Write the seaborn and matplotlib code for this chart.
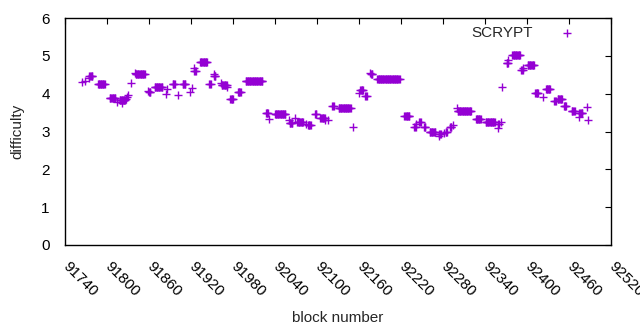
import numpy as np
import pandas as pd
import matplotlib
matplotlib.use("Agg")
import matplotlib.pyplot as plt
import matplotlib.transforms as mtransforms
import seaborn as sns

# difficulty read off the chart as runs of blocks at one level
# (start block, end block, difficulty); single blocks have start == end
seg_start = [91765, 91768, 91774, 91775, 91787, 91804, 91815, 91818, 91822, 91827,
             91829, 91830, 91834, 91840, 91841, 91858, 91860, 91868, 91885, 91886,
             91894, 91902, 91908, 91919, 91922, 91925, 91925, 91933, 91946, 91953,
             91953, 91963, 91964, 91972, 91976, 91987, 91998, 92027, 92032, 92040,
             92060, 92061, 92068, 92072, 92084, 92087, 92097, 92105, 92112, 92116,
             92122, 92131, 92152, 92160, 92162, 92169, 92176, 92177, 92186, 92225,
             92239, 92242, 92246, 92253, 92261, 92274, 92275, 92282, 92284, 92290,
             92294, 92300, 92301, 92327, 92341, 92358, 92359, 92363, 92365, 92371,
             92373, 92379, 92392, 92394, 92401, 92412, 92423, 92427, 92439, 92444,
             92453, 92464, 92474, 92475, 92486, 92487]
seg_end = [91765, 91768, 91774, 91779, 91797, 91812, 91815, 91826, 91822, 91827,
           91829, 91830, 91834, 91840, 91854, 91858, 91862, 91879, 91885, 91886,
           91897, 91902, 91912, 91919, 91922, 91925, 91927, 91943, 91948, 91953,
           91955, 91963, 91971, 91972, 91980, 91991, 92022, 92030, 92032, 92055,
           92060, 92065, 92068, 92080, 92084, 92091, 92099, 92111, 92112, 92116,
           92124, 92148, 92152, 92160, 92166, 92171, 92176, 92179, 92218, 92232,
           92241, 92242, 92248, 92255, 92269, 92274, 92277, 92282, 92286, 92292,
           92294, 92300, 92320, 92334, 92354, 92358, 92360, 92363, 92365, 92373,
           92373, 92390, 92394, 92394, 92410, 92416, 92423, 92433, 92441, 92450,
           92456, 92468, 92474, 92479, 92486, 92487]
seg_level = [4.30, 4.34, 4.42, 4.47, 4.25, 3.88, 3.78, 3.82, 3.75, 3.85,
             3.92, 3.97, 4.28, 4.55, 4.52, 4.08, 4.04, 4.18, 4.00, 4.12,
             4.25, 3.97, 4.25, 4.05, 4.15, 4.68, 4.61, 4.84, 4.26, 4.52,
             4.47, 4.28, 4.24, 4.18, 3.85, 4.04, 4.34, 3.48, 3.33, 3.46,
             3.30, 3.22, 3.36, 3.24, 3.20, 3.16, 3.45, 3.36, 3.31, 3.30,
             3.68, 3.63, 3.12, 4.02, 4.10, 3.94, 4.55, 4.52, 4.40, 3.42,
             3.13, 3.20, 3.25, 3.11, 2.98, 2.88, 2.93, 2.95, 3.00, 3.11,
             3.16, 3.62, 3.55, 3.34, 3.26, 3.10, 3.20, 3.25, 4.18, 4.80,
             4.90, 5.01, 4.62, 4.68, 4.77, 4.03, 3.90, 4.12, 3.80, 3.87,
             3.67, 3.53, 3.38, 3.50, 3.65, 3.30]

blocks, diffs = [], []
for s, e, v in zip(seg_start, seg_end, seg_level):
    for b in range(s, e + 1):
        blocks.append(b)
        diffs.append(v)
df = pd.DataFrame({"block": blocks, "difficulty": diffs})

x_ticks = list(range(91740, 92521, 60))
purple = "#9400D3"

sns.set_theme(style="white")
plt.rcParams["font.family"] = ["Liberation Sans", "DejaVu Sans"]
plt.rcParams["font.size"] = 11

fig = plt.figure(figsize=(6.4, 3.3), dpi=100)
ax = fig.add_axes([65 / 640, 85 / 330, 546 / 640, 227 / 330])

sns.scatterplot(data=df, x="block", y="difficulty", marker="+", s=34,
                color=purple, linewidth=1.0, label="SCRYPT", ax=ax)

ax.set_xlim(91740, 92520)
ax.set_ylim(0, 6)
ax.set_xticks(x_ticks)
ax.set_yticks(range(0, 7))
ax.tick_params(direction="in", length=4, width=0.8, top=True, right=True,
               colors="black", labelsize=11)
ax.tick_params(axis="y", pad=11)
ax.tick_params(axis="x", pad=9)
shift = mtransforms.ScaledTranslation(5 / 100, -2 / 100, fig.dpi_scale_trans)
for lab in ax.get_xticklabels():
    lab.set_rotation(-45)
    lab.set_ha("left")
    lab.set_va("top")
    lab.set_rotation_mode("anchor")
    lab.set_transform(lab.get_transform() + shift)
for sp in ax.spines.values():
    sp.set_color("black")
    sp.set_linewidth(1.0)

ax.set_xlabel("block number", fontsize=11, labelpad=8)
ax.set_ylabel("difficulty", fontsize=11, labelpad=12)

ax.legend(loc="upper right", bbox_to_anchor=(0.954, 0.965), frameon=False,
          markerfirst=False, handlelength=2.5, handletextpad=1.0,
          borderpad=0, borderaxespad=0, fontsize=11, scatterpoints=1)

fig.savefig("out.png", dpi=100)
